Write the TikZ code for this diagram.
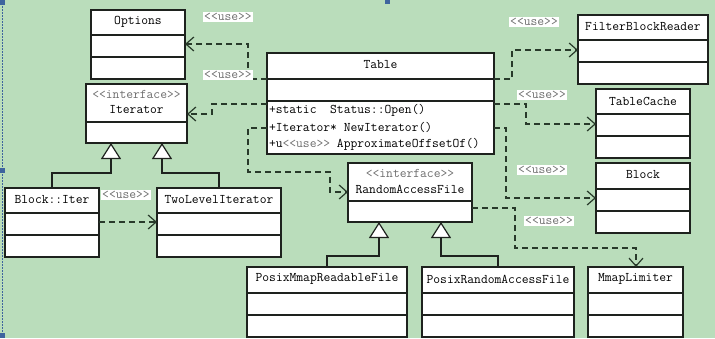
\documentclass[tikz,border=0pt]{standalone}
\usetikzlibrary{arrows.meta}
\definecolor{bg}{RGB}{186,221,187}
\definecolor{ln}{RGB}{30,34,30}
\definecolor{dl}{RGB}{40,58,42}
\definecolor{gt}{RGB}{110,110,110}
\definecolor{hb}{RGB}{62,100,158}
\tikzset{
  x=1pt, y=-1pt,
  every node/.style={font=\fontsize{13.2}{15}\selectfont\ttfamily, inner sep=0pt, outer sep=0pt},
  cls/.style={draw=ln, fill=white, line width=1.2pt, anchor=north west},
  divline/.style={draw=ln, line width=1.2pt},
  inh/.style={draw=ln, line width=1.3pt, -{Triangle[width=20pt,length=16pt,fill=white,line width=1.2pt]}},
  use/.style={draw=dl, line width=1.2pt, dash pattern=on 6pt off 4pt, -{Straight Barb[length=8pt,width=14pt,line width=1.2pt]}},
  ulabel/.style={fill=white, text=gt, inner sep=1.5pt},
  stereo/.style={text=gt},
  handle/.style={fill=hb, draw=none},
}
\newcommand\umlbox[5]{% name, x1, y1, x2, y2
  \node[cls, minimum width={#4-#2}, minimum height={#5-#3}] (#1) at (#2,#3) {};}
\newcommand\hdiv[2]{% node, offset from top
  \draw[divline] ([yshift=-#2pt]#1.north west) -- ([yshift=-#2pt]#1.north east);}
\begin{document}
\begin{tikzpicture}
\fill[bg] (0,0) rectangle (715,338);
\useasboundingbox (0,0) rectangle (715,338);
% selection frame
\draw[hb, line width=0.8pt, dash pattern=on 1.5pt off 1.5pt] (2,0) -- (2,338);
\fill[handle] (0,0) rectangle (5,5);
\fill[handle] (0,168) rectangle (5,173);
\fill[handle] (0,333) rectangle (5,338);
\fill[handle] (385,0) rectangle (390,4);
\fill[handle] (385,334) rectangle (390,338);

% classes
\umlbox{opt}{91}{10}{185}{79}   \hdiv{opt}{25}  \hdiv{opt}{47}
\umlbox{iter}{86}{84}{187}{143} \hdiv{iter}{38}
\umlbox{table}{267}{53}{494}{154} \hdiv{table}{26} \hdiv{table}{48}
\umlbox{fbr}{578}{15}{708}{84}  \hdiv{fbr}{25}  \hdiv{fbr}{47}
\umlbox{tc}{596}{89}{690}{158}  \hdiv{tc}{25}   \hdiv{tc}{47}
\umlbox{blk}{596}{163}{690}{233} \hdiv{blk}{26} \hdiv{blk}{48}
\umlbox{raf}{348}{163}{472}{222} \hdiv{raf}{38}
\umlbox{bi}{5}{188}{99}{257}    \hdiv{bi}{25}   \hdiv{bi}{47}
\umlbox{tli}{157}{188}{281}{257} \hdiv{tli}{25} \hdiv{tli}{47}
\umlbox{pmrf}{247}{267}{407}{337} \hdiv{pmrf}{26} \hdiv{pmrf}{48}
\umlbox{praf}{422}{267}{574}{337} \hdiv{praf}{26} \hdiv{praf}{48}
\umlbox{ml}{588}{267}{683}{337} \hdiv{ml}{26} \hdiv{ml}{48}

% class texts
\node (optT) at (138,22) {Options};
\node[stereo] (iterS) at (136.5,94) {<{}<interface>{}>};
\node (iterT) at (136.5,110) {Iterator};
\node (tableT) at (380.5,65) {Table};
\node[anchor=west] (op1) at (269,110) {+static\ \ Status::Open()};
\node[anchor=west] (op2) at (269,127) {+Iterator* NewIterator()};
\node[anchor=west] (op3) at (269,144) {+u\textcolor{gt}{<{}<use>{}>} ApproximateOffsetOf()};
\node (fbrT) at (643,27) {FilterBlockReader};
\node (tcT) at (643,101) {TableCache};
\node (blkT) at (643,175) {Block};
\node[stereo] (rafS) at (410,173) {<{}<interface>{}>};
\node (rafT) at (410,189) {RandomAccessFile};
\node (biT) at (52,200) {Block::Iter};
\node (tliT) at (219,200) {TwoLevelIterator};
\node (pmrfT) at (327,279) {PosixMmapReadableFile};
\node (prafT) at (498,279) {PosixRandomAccessFile};
\node (mlT) at (635.5,279) {MmapLimiter};

% inheritance
\coordinate (j1) at (111,173);
\coordinate (j2) at (162,173);
\coordinate (j3) at (379,256);
\coordinate (j4) at (441,256);
\draw[inh] (bi.north) |- (j1) -- (j1 |- iter.south);
\draw[inh] (tli.north) |- (j2) -- (j2 |- iter.south);
\coordinate (p1) at (327,256);
\coordinate (p2) at (498,256);
\draw[inh] (p1 |- pmrf.north) -- (p1) -- (j3) -- (j3 |- raf.south);
\draw[inh] (p2 |- praf.north) -- (p2) -- (j4) -- (j4 |- raf.south);

% dependencies
\coordinate (b1) at (248,44);
\draw[use] ([yshift=-26pt]table.north west) -| (b1) -- (b1 -| opt.east);
\coordinate (b2) at (212,114);
\draw[use] ([yshift=-51pt]table.north west) -| (b2) -- (b2 -| iter.east);
\coordinate (b3a) at (248,172);
\coordinate (b3b) at (330,192);
\draw[use] ([yshift=-75pt]table.north west) -| (b3a) -| (b3b) -- (b3b -| raf.west);
\coordinate (b4) at (512,50);
\draw[use] ([yshift=-26pt]table.north east) -| (b4) -- (b4 -| fbr.west);
\coordinate (b5) at (526,124);
\draw[use] ([yshift=-51pt]table.north east) -| (b5) -- (b5 -| tc.west);
\coordinate (b6) at (506,198);
\draw[use] ([yshift=-75pt]table.north east) -| (b6) -- (b6 -| blk.west);
\coordinate (b7a) at (515,248);
\coordinate (b7b) at (636,248);
\draw[use] ([yshift=-45pt]raf.north east) -| (b7a) -- (b7b) -- (b7b |- ml.north);
\draw[use] ([yshift=-34pt]bi.north east) -- ([yshift=-34pt]tli.north west);

% labels
\node[ulabel] (l1) at (228,17) {<{}<use>{}>};
\node[ulabel] (l2) at (228,75) {<{}<use>{}>};
\node[ulabel] (l4) at (534,22) {<{}<use>{}>};
\node[ulabel] (l5) at (542,95) {<{}<use>{}>};
\node[ulabel] (l6) at (542,170) {<{}<use>{}>};
\node[ulabel] (l7) at (549,221) {<{}<use>{}>};
\node[ulabel] (l8) at (126,195) {<{}<use>{}>};
\end{tikzpicture}
\end{document}
